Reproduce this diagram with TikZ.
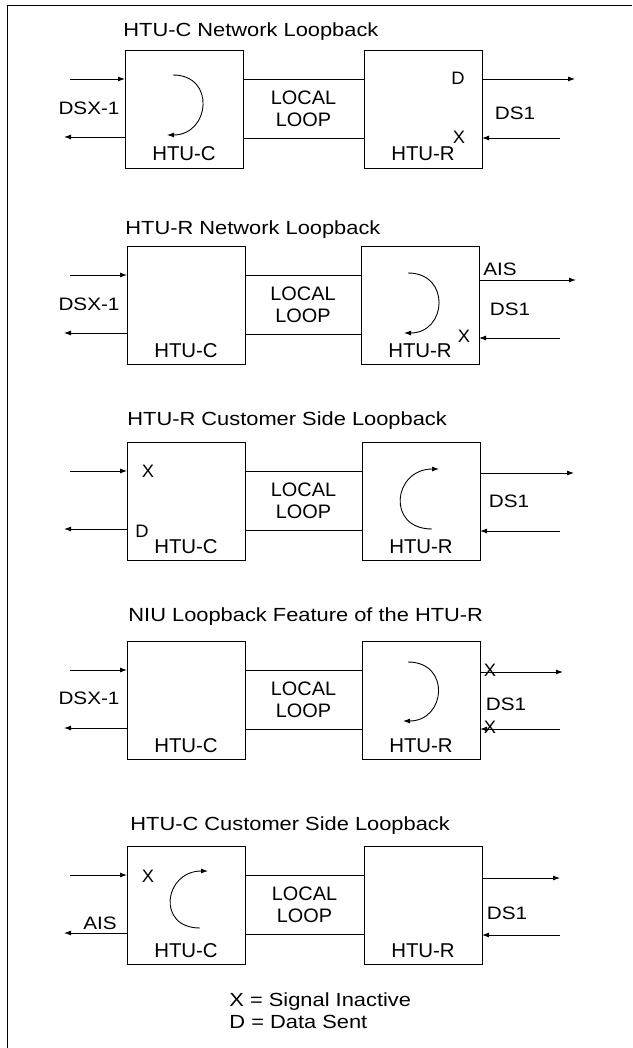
\documentclass[tikz,border=0pt]{standalone}
\usepackage{fontspec}
\setmainfont{Liberation Sans}[FakeStretch=1.15]
\newfontfamily\unitfont{Liberation Sans}[FakeStretch=1.02]
\usetikzlibrary{arrows.meta,calc}

\begin{document}
\begin{tikzpicture}[x=1pt, y=-1pt, line width=0.9pt,
  unit/.style={draw, minimum width=118pt, minimum height=118pt,
    inner sep=0pt, outer sep=0pt, anchor=north west},
  sig/.style={-{Latex[length=7pt,width=5pt]}},
  ttl/.style={font=\fontsize{19}{22}\selectfont, inner sep=0pt, anchor=base west},
  lbl/.style={font=\fontsize{18}{21.5}\selectfont, inner sep=0pt},
  uname/.style={font=\unitfont\fontsize{20}{21.5}\selectfont, inner sep=0pt},
  flag/.style={font=\unitfont\fontsize{18}{20}\selectfont, inner sep=0pt}]
\useasboundingbox (0,0) rectangle (632,1048);
% frame
\draw (7,1048) -- (7,5) -- (632,5);
% the five panels: units, local loop, line arrows
\foreach \i/\t/\cl/\rl/\ro/\ri/\re in {1/50/125/364/29/88/575,
  2/246/127/361/34/92/576, 3/442/127/362/31/89/574,
  4/641/127/362/31/88/563, 5/846/127/364/32/89/560} {
  \node[unit] (hc\i) at (\cl,\t) {};
  \node[unit] (hr\i) at (\rl,\t) {};
  \node[uname, anchor=base] (nc\i) at ([yshift=7pt]hc\i.south) {HTU-C};
  \node[uname, anchor=base] (nr\i) at ([yshift=7pt]hr\i.south) {HTU-R};
  \draw ([yshift=-29pt]hc\i.north east) -- ([yshift=-29pt]hr\i.north west);
  \draw ([yshift=-88pt]hc\i.north east) -- ([yshift=-88pt]hr\i.north west);
  \node[uname, font=\unitfont\fontsize{19.5}{21.5}\selectfont, align=center]
    (ll\i) at ($(hc\i.east)!0.5!(hr\i.west)$) {LOCAL\\LOOP};
  \coordinate (li\i) at (70,{\t+29});
  \coordinate (lo\i) at (64,{\t+87});
  \coordinate (ro\i) at (\re,{\t+\ro});
  \coordinate (ri\i) at (560,{\t+\ri});
  \draw[sig] (li\i) -- (hc\i.west |- li\i);
  \draw[sig] (hc\i.west |- lo\i) -- (lo\i);
  \draw[sig] (hr\i.east |- ro\i) -- (ro\i);
  \draw[sig] (ri\i) -- (hr\i.east |- ri\i);
}
% panel 1
\node[ttl] (t1) at (123,37) {HTU-C Network Loopback};
\node[lbl] (dsx1) at (89,108) {DSX-1};
\node[lbl] (ds1) at (515,113) {DS1};
\node[flag] (d1) at (458,78) {D};
\node[flag] (x1) at (459,137) {X};
\draw[sig] (173,75) .. controls (216,75) and (210,135) .. (167,135);
% panel 2
\node[ttl] (t2) at (125,235) {HTU-R Network Loopback};
\node[lbl] (dsx2) at (89,304) {DSX-1};
\node[lbl] (ais2) at (500,269) {AIS};
\node[lbl] (ds2) at (510,309) {DS1};
\node[flag] (x2) at (464,336) {X};
\draw[sig] (408,273) .. controls (451,273) and (447,333) .. (404,333);
% panel 3
\node[ttl] (t3) at (127,425) {HTU-R Customer Side Loopback};
\node[lbl] (ds3) at (509,501) {DS1};
\node[flag] (x3) at (148,471) {X};
\node[flag] (d3) at (142,531) {D};
\draw[sig] (432,529) .. controls (386,529) and (393,469) .. (439,469);
% panel 4
\node[ttl] (t4) at (128,621) {NIU Loopback Feature of the HTU-R};
\node[lbl] (dsx4) at (89,698) {DSX-1};
\node[lbl] (ds4) at (506,704) {DS1};
\node[flag] (xa4) at (490,670) {X};
\node[flag] (xb4) at (490,727) {X};
\draw[sig] (408,662) .. controls (451,662) and (446,721) .. (403,721);
% panel 5
\node[ttl] (t5) at (130,830) {HTU-C Customer Side Loopback};
\node[lbl] (ais5) at (100,923) {AIS};
\node[lbl] (ds5) at (507,913) {DS1};
\node[flag] (x5) at (148,876) {X};
\draw[sig] (200,928) .. controls (156,928) and (164,871) .. (208,871);
% key
\node[ttl] (key1) at (229,1006) {X = Signal Inactive};
\node[ttl] (key2) at (229,1028) {D = Data Sent};
\end{tikzpicture}
\end{document}
